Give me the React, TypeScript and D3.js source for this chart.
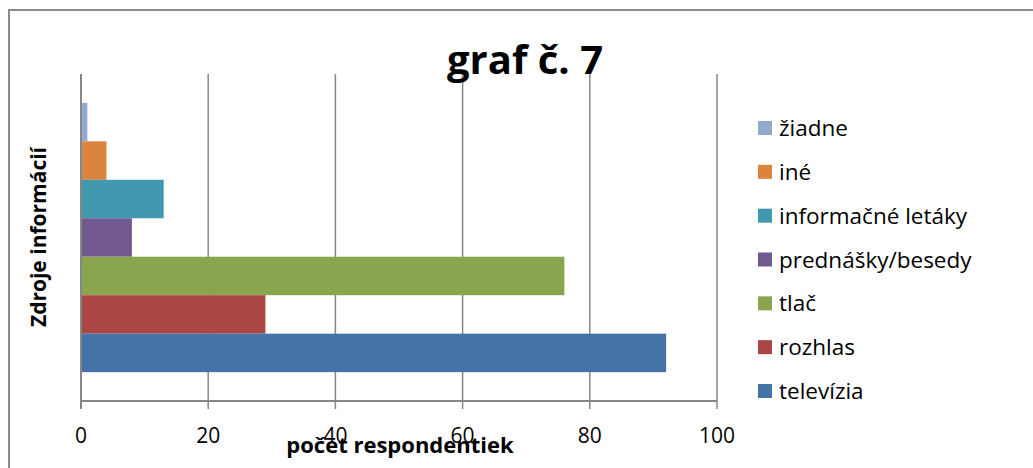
import React from 'react';
import * as d3 from 'd3';

const series = ['žiadne', 'iné', 'informačné letáky', 'prednášky/besedy', 'tlač', 'rozhlas', 'televízia'];
const values = [1, 4, 13, 8, 76, 29, 92];
const colors = ['#93A9CF', '#DB843D', '#4198AF', '#71588F', '#89A54E', '#AA4643', '#4572A7'];
const xTicks = [0, 20, 40, 60, 80, 100];

const font = '"Open Sans", Lato, sans-serif';

const App: React.FC = () => {
  const width = 1033;
  const height = 468;

  // plot area
  const left = 81;
  const right = 717;
  const top = 74;
  const bottom = 401;

  const x = d3.scaleLinear().domain([0, 100]).range([left, right]);
  const y = d3.scaleBand<string>()
    .domain(series)
    .range([top, bottom])
    .paddingInner(0)
    .paddingOuter(0.75);

  const legendY = d3.scalePoint<string>()
    .domain(series)
    .range([128, 391]);

  const grid = '#878787';

  return (
    <svg
      width={width}
      height={height}
      style={{ position: 'absolute', left: 0, top: 0, background: '#fff' }}
    >
      {/* chart frame */}
      <rect x={9} y={10} width={1100} height={600} fill="#fff" stroke="#8a8a8a" strokeWidth={2} />

      {/* gridlines */}
      {xTicks.map(t => (
        <line key={t} x1={x(t)} x2={x(t)} y1={top} y2={bottom + 8} stroke={grid} strokeWidth={1.5} />
      ))}

      {/* bars */}
      {series.map((s, i) => (
        <rect
          key={s}
          x={x(0)}
          y={y(s)}
          width={x(values[i]) - x(0)}
          height={y.bandwidth()}
          fill={colors[i]}
        />
      ))}

      {/* axes */}
      <line x1={left} x2={left} y1={top} y2={bottom + 8} stroke={grid} strokeWidth={2} />
      <line x1={left} x2={right} y1={bottom} y2={bottom} stroke={grid} strokeWidth={2} />

      {/* x tick labels */}
      {xTicks.map(t => (
        <text key={t} x={x(t)} y={443} textAnchor="middle" fontFamily={font} fontSize={21} fill="#000">
          {t}
        </text>
      ))}

      {/* axis titles */}
      <text x={400} y={453} textAnchor="middle" fontFamily={font} fontSize={22} fontWeight="bold">
        počet respondentiek
      </text>
      <text
        transform={`translate(46, 237) rotate(-90)`}
        textAnchor="middle"
        fontFamily={font}
        fontSize={21}
        fontWeight="bold"
      >
        Zdroje informácií
      </text>

      {/* title */}
      <text x={525} y={74} textAnchor="middle" fontFamily={font} fontSize={40} fontWeight="bold">
        graf č. 7
      </text>

      {/* legend */}
      {series.map((s, i) => (
        <g key={s} transform={`translate(758, ${legendY(s)})`}>
          <rect x={0} y={-7} width={14} height={14} fill={colors[i]} />
          <text x={21} y={8} fontFamily={font} fontSize={22.5} fill="#000">
            {s}
          </text>
        </g>
      ))}
    </svg>
  );
};

export default App;
